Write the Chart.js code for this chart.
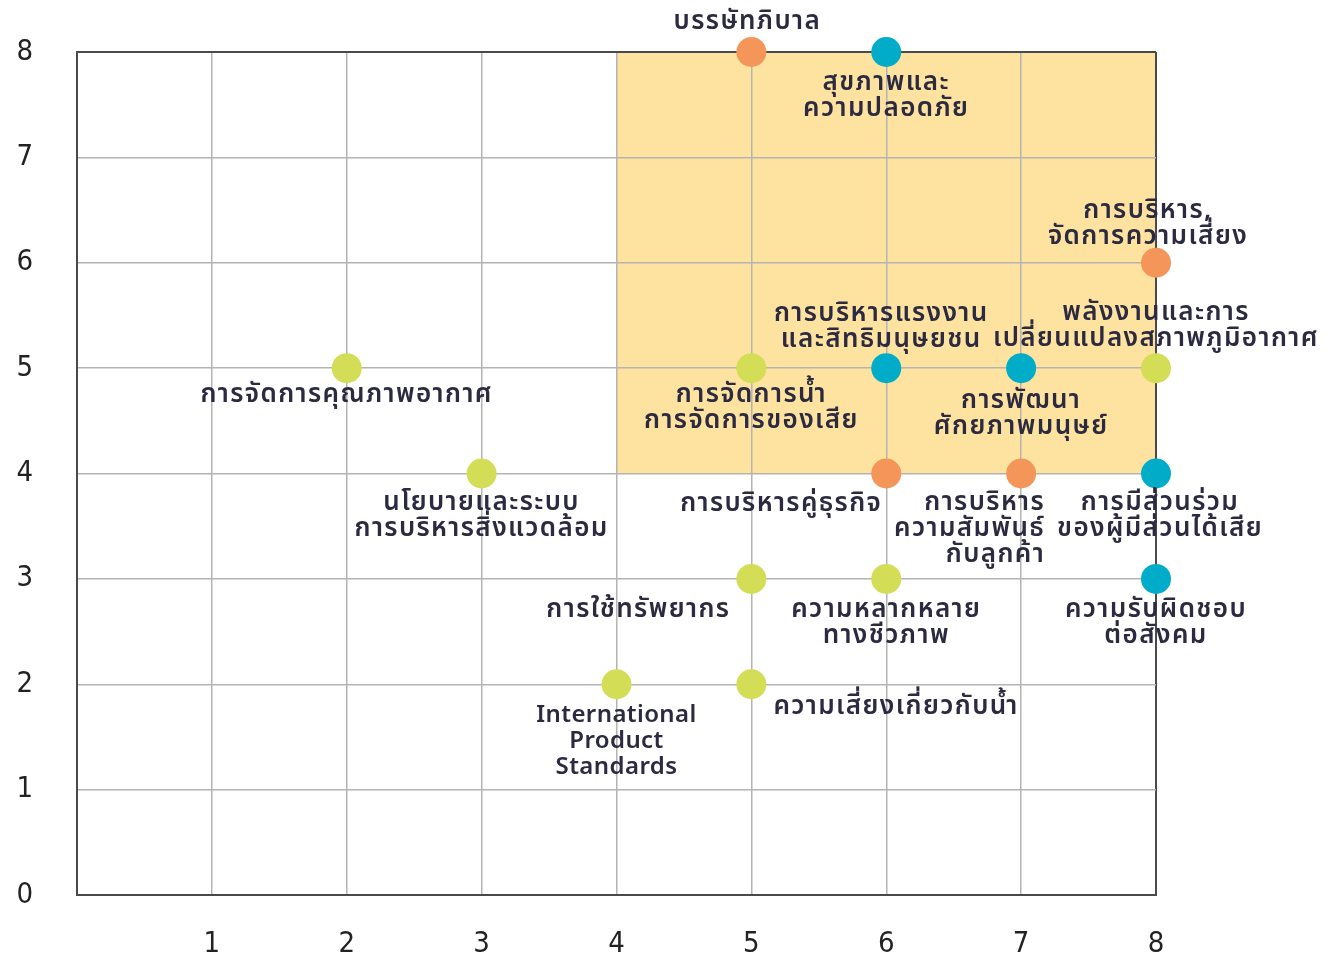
<!DOCTYPE html>
<html>
<head>
<meta charset="utf-8">
<script src="https://cdn.jsdelivr.net/npm/chart.js@4.4.1/dist/chart.umd.min.js"></script>
<style>
  body { margin: 0; background: #fff; }
</style>
</head>
<body>
<canvas id="matrix" width="1334" height="956"></canvas>
<script>
// topics and where they sit on the matrix
const topics = [
    'บรรษัทภิบาล',
    'สุขภาพและ\nความปลอดภัย',
    'การบริหาร,\nจัดการความเสี่ยง',
    'การบริหารแรงงาน\nและสิทธิมนุษยชน',
    'การพัฒนา\nศักยภาพมนุษย์',
    'พลังงานและการ\nเปลี่ยนแปลงสภาพภูมิอากาศ',
    'การจัดการคุณภาพอากาศ',
    'การจัดการน้ำ\nการจัดการของเสีย',
    'นโยบายและระบบ\nการบริหารสิ่งแวดล้อม',
    'การบริหารคู่ธุรกิจ',
    'การบริหาร\nความสัมพันธ์\nกับลูกค้า',
    'การมีส่วนร่วม\nของผู้มีส่วนได้เสีย',
    'การใช้ทรัพยากร',
    'ความหลากหลาย\nทางชีวภาพ',
    'ความรับผิดชอบ\nต่อสังคม',
    'International\nProduct\nStandards',
    'ความเสี่ยงเกี่ยวกับน้ำ'
];
const xValues = [5, 6, 8, 6, 7, 8, 2, 5, 3, 6, 7, 8, 5, 6, 8, 4, 5];
const yValues = [8, 8, 6, 5, 5, 5, 5, 5, 4, 4, 4, 4, 3, 3, 3, 2, 2];
const groups  = ['gov', 'soc', 'gov', 'soc', 'soc', 'env', 'env', 'env', 'env',
                 'gov', 'gov', 'soc', 'env', 'env', 'soc', 'env', 'env'];
const xTicks = [0, 1, 2, 3, 4, 5, 6, 7, 8];
const yTicks = [0, 1, 2, 3, 4, 5, 6, 7, 8];
// highlighted quadrant
const zoneX = [4, 8];
const zoneY = [4, 8];

const groupColors = { gov: '#F4955A', soc: '#00ACC8', env: '#D3DE56' };

// label placement relative to its point: [dx, dy of first line, align]
const labelPlace = [
    [-4, -28, 'center'],
    [0, 33, 'center'],
    [-8, -50, 'center'],
    [-5, -52, 'center'],
    [0, 35, 'center'],
    [0, -53, 'center'],
    [0, 29, 'center'],
    [0, 29, 'center'],
    [0, 31, 'center'],
    [-4, 32, 'right'],
    [24, 31, 'right'],
    [4, 31, 'center'],
    [-21, 33, 'right'],
    [0, 33, 'center'],
    [0, 33, 'center'],
    [0, 31, 'center'],
    [22, 24, 'left']
];

const THAI_FONT = '600 26px "Noto Sans Thai", "Noto Sans", sans-serif';
const LATIN_FONT = '600 24px "Noto Sans", sans-serif';
const LINE_H = 26;

function buildDataset(g) {
    const pts = [];
    topics.forEach((t, i) => {
        if (groups[i] === g) pts.push({ x: xValues[i], y: yValues[i] });
    });
    return {
        data: pts,
        backgroundColor: groupColors[g],
        borderWidth: 0,
        pointRadius: 15,
        pointHoverRadius: 15,
        clip: false
    };
}

const zonePlugin = {
    id: 'zone',
    beforeDraw(chart) {
        const { ctx, scales: { x, y } } = chart;
        const x0 = x.getPixelForValue(zoneX[0]), x1 = x.getPixelForValue(zoneX[1]);
        const y0 = y.getPixelForValue(zoneY[1]), y1 = y.getPixelForValue(zoneY[0]);
        ctx.save();
        ctx.fillStyle = '#FEE3A0';
        ctx.fillRect(x0, y0, x1 - x0, y1 - y0);
        ctx.restore();
    }
};

const labelPlugin = {
    id: 'topicLabels',
    afterDatasetsDraw(chart) {
        const { ctx, scales: { x, y } } = chart;
        ctx.save();
        ctx.fillStyle = '#2b2a40';
        ctx.textBaseline = 'middle';
        topics.forEach((t, i) => {
            const [dx, dy, align] = labelPlace[i];
            const latin = /[A-Za-z]/.test(t);
            ctx.font = latin ? LATIN_FONT : THAI_FONT;
            ctx.letterSpacing = latin ? '0.4px' : '1.4px';
            const px = x.getPixelForValue(xValues[i]) + dx;
            const py = y.getPixelForValue(yValues[i]) + dy;
            ctx.textAlign = align;
            t.split('\n').forEach((line, k) => {
                ctx.fillText(line, px, py + k * LINE_H);
            });
        });
        ctx.restore();
    }
};

const edgeColor = (ctx) => (ctx.tick && (ctx.tick.value === 0 || ctx.tick.value === 8)) ? '#4a4a4a' : '#b4b4b4';
const edgeWidth = (ctx) => (ctx.tick && (ctx.tick.value === 0 || ctx.tick.value === 8)) ? 2 : 1.5;
const tickFont = { family: '"Liberation Sans Narrow", "DejaVu Sans Condensed", sans-serif', size: 29 };

new Chart(document.getElementById('matrix'), {
    type: 'scatter',
    data: {
        datasets: ['gov', 'soc', 'env'].map(buildDataset)
    },
    options: {
        responsive: false,
        animation: false,
        layout: { padding: { top: 52, right: 178, left: 0, bottom: 0 } },
        plugins: {
            legend: { display: false },
            tooltip: { enabled: false }
        },
        scales: {
            x: {
                min: xTicks[0],
                max: xTicks[xTicks.length - 1],
                afterBuildTicks: (s) => { s.ticks = xTicks.map(v => ({ value: v })); },
                afterFit: (s) => { s.height = 61; s.paddingLeft = 0; s.paddingRight = 0; },
                grid: { color: edgeColor, lineWidth: edgeWidth, drawTicks: false },
                border: { color: '#4a4a4a', width: 2 },
                ticks: {
                    padding: 32,
                    color: '#222',
                    font: tickFont,
                    callback: (v) => v === 0 ? '' : v
                }
            },
            y: {
                min: yTicks[0],
                max: yTicks[yTicks.length - 1],
                afterBuildTicks: (s) => { s.ticks = yTicks.map(v => ({ value: v })); },
                afterFit: (s) => { s.width = 77; s.paddingTop = 0; s.paddingBottom = 0; },
                grid: { color: edgeColor, lineWidth: edgeWidth, drawTicks: false },
                border: { color: '#4a4a4a', width: 2 },
                ticks: {
                    padding: 44,
                    color: '#222',
                    font: tickFont
                }
            }
        }
    },
    plugins: [zonePlugin, labelPlugin]
});
</script>
</body>
</html>
